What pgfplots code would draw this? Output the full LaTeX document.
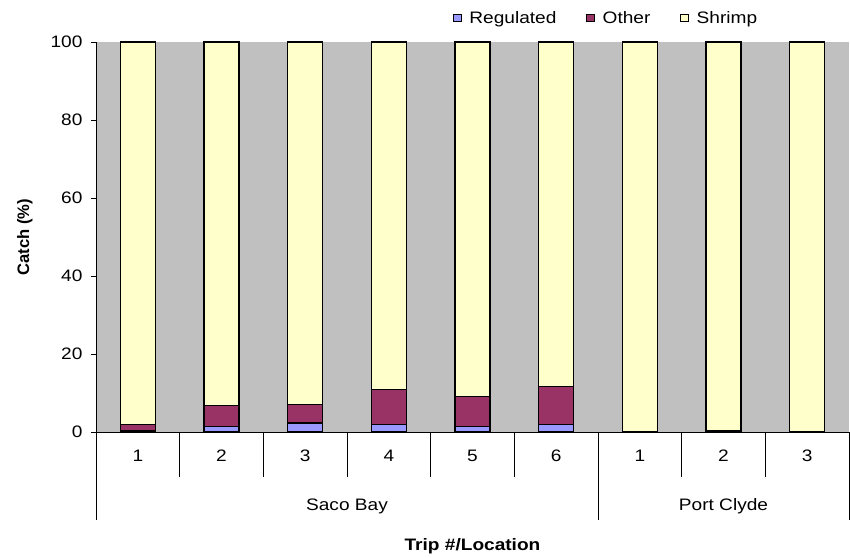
\documentclass[border=0pt]{standalone}
\usepackage{fontspec}
\setmainfont{Liberation Sans}[FakeStretch=1.15]
\newfontfamily\plainsans{Liberation Sans}
\usepackage{pgfplots}
\usepackage{pgfplotstable}
\pgfplotsset{compat=1.18}

\definecolor{plotbg}{HTML}{C0C0C0}
\definecolor{regcol}{HTML}{9999FF}
\definecolor{othcol}{HTML}{993366}
\definecolor{shrcol}{HTML}{FFFFCC}

% catch composition (%) per trip: regulated species, other bycatch, shrimp
\pgfplotstableread{
x reg  oth  shr
0 0.3  1.7  98.0
1 1.4  5.3  93.3
2 2.3  4.8  92.9
3 1.9  8.9  89.2
4 1.4  7.65 90.95
5 1.9  9.8  88.3
6 0.0  0.0  100.0
7 0.0  0.4  99.6
8 0.0  0.0  100.0
}\catchdata

\newcommand{\txt}{\fontsize{16.6bp}{19bp}\selectfont}

\begin{document}
\begin{tikzpicture}
\useasboundingbox (-96bp,-126bp) rectangle (754bp,432bp);
\begin{axis}[
  scale only axis, width=753bp, height=390bp,
  at={(0,0)}, anchor=south west,
  ybar stacked, bar width=35bp,
  xmin=-0.5, xmax=8.5, ymin=0, ymax=100,
  clip=false,
  axis background/.style={fill=plotbg},
  axis x line*=bottom, axis y line*=left,
  axis line style={-, line width=0.8bp, black},
  ytick={0,20,...,100},
  major tick length=5bp, tick align=outside,
  y tick style={black, line width=0.8bp},
  xtick={0,...,8}, xticklabels={1,2,3,4,5,6,1,2,3},
  x tick style={draw=none},
  /pgf/number format/assume math mode=true,
  ticklabel style={font=\txt},
  yticklabel style={xshift=-5bp},
  xticklabel style={anchor=base, yshift=-24bp},
  xlabel={\textbf{Trip \#/Location}},
  xlabel style={font=\txt, at={(axis description cs:0.5,-0.3051)}, anchor=base},
  ylabel={\plainsans\bfseries Catch (\%)},
  ylabel style={font=\txt, at={(axis description cs:-0.0889,0.5)}, anchor=base},
  legend columns=3,
  legend style={font=\txt, draw=none, fill=none,
    at={(axis description cs:0.47,1.0615)}, anchor=west,
    /tikz/every odd column/.append style={column sep=6bp},
    /tikz/every even column/.append style={column sep=28bp}},
  sq/.style={legend image code/.code={%
      \draw[##1, line width=0.7bp, draw=black] (0bp,-3.8bp) rectangle (7.6bp,3.8bp);}},
]
\addplot[fill=regcol, draw=black, line width=1.2bp, sq] table[x=x, y=reg] {\catchdata};
\addplot[fill=othcol, draw=black, line width=1.2bp, sq] table[x=x, y=oth] {\catchdata};
\addplot[fill=shrcol, draw=black, line width=1.2bp, sq] table[x=x, y=shr] {\catchdata};
\legend{Regulated, Other, Shrimp}

% category separators below the axis
\pgfplotsinvokeforeach{-0.5,0.5,1.5,2.5,3.5,4.5,5.5,6.5,7.5,8.5}{%
  \draw[line width=0.8bp] (axis cs:#1,0) -- ([yshift=-45bp]axis cs:#1,0);}
\pgfplotsinvokeforeach{-0.5,5.5,8.5}{%
  \draw[line width=0.8bp] (axis cs:#1,0) -- ([yshift=-88bp]axis cs:#1,0);}
\node[font=\txt, anchor=base] at ([yshift=-78bp]axis cs:2.5,0) {Saco Bay};
\node[font=\txt, anchor=base] at ([yshift=-78bp]axis cs:7,0) {Port Clyde};
\end{axis}
\end{tikzpicture}
\end{document}
